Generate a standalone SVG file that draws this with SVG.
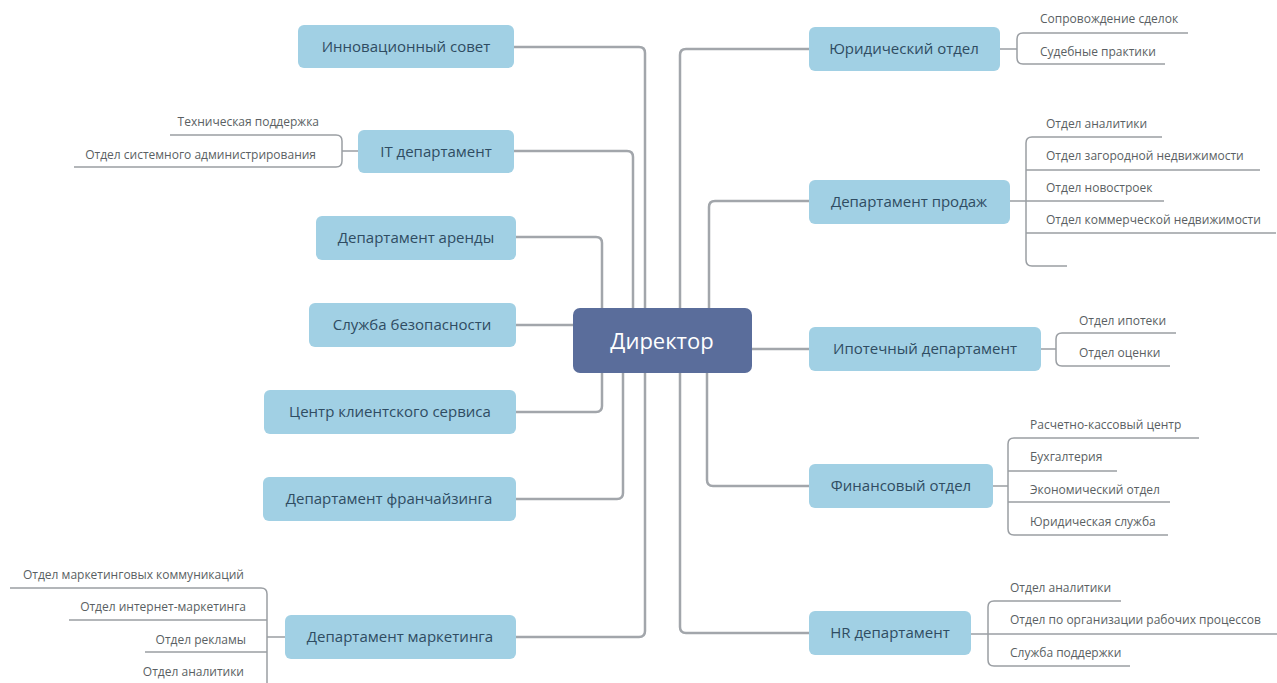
<svg xmlns="http://www.w3.org/2000/svg" width="1277" height="683" viewBox="0 0 1277 683">
<style>
.bg{fill:#ffffff}
.main{fill:none;stroke:#a2a6ab;stroke-width:2.5;stroke-linejoin:round}
.sub{fill:none;stroke:#9a9ea3;stroke-width:1.5;stroke-linejoin:round}
.node rect{fill:#a1d0e4}
.node text{font-family:"Open Sans","Noto Sans",sans-serif;font-size:15px;fill:#2f4c62;text-anchor:middle}
.root rect{fill:#5a6d9b}
.root text{font-family:"Open Sans","Noto Sans",sans-serif;font-size:22px;fill:#ffffff;text-anchor:middle}
.st{font-family:"Open Sans","Noto Sans",sans-serif;font-size:12px;fill:#5a5f63}
.l{text-anchor:end}
</style>
<rect class="bg" x="0" y="0" width="1277" height="683"/>
<g id="connectors">
<path class="main" d="M514,47 H639 Q645,47 645,53 V631 Q645,637 639,637 H516"/>
<path class="main" d="M514,151 H627 Q633,151 633,157 V310"/>
<path class="main" d="M516,237 H596 Q602,237 602,243 V406 Q602,412 596,412 H516"/>
<path class="main" d="M516,325 H575"/>
<path class="main" d="M516,499 H617 Q623,499 623,493 V370"/>
<path class="main" d="M809,49 H686 Q680,49 680,55 V627 Q680,633 686,633 H809"/>
<path class="main" d="M809,201 H715 Q709,201 709,207 V310"/>
<path class="main" d="M750,349 H809"/>
<path class="main" d="M809,486 H713 Q707,486 707,480 V370"/>
<path class="sub" d="M170,135 H336 Q342,135 342,141 V161 Q342,167 336,167 H74"/>
<path class="sub" d="M342,151 H358"/>
<path class="sub" d="M10,588 H261 Q267,588 267,594 V690"/>
<path class="sub" d="M69,620 H267 M145,652 H267 M139,684 H267 M267,637 H285"/>
<path class="sub" d="M1188,33 H1023 Q1017,33 1017,39 V58 Q1017,64 1023,64 H1165"/>
<path class="sub" d="M1000,49 H1017"/>
<path class="sub" d="M1162,137 H1032 Q1026,137 1026,143 V260 Q1026,266 1032,266 H1067"/>
<path class="sub" d="M1026,170 H1260 M1010,201 H1164 M1026,233 H1276"/>
<path class="sub" d="M1176,333 H1062 Q1056,333 1056,339 V360 Q1056,366 1062,366 H1170"/>
<path class="sub" d="M1041,349 H1056"/>
<path class="sub" d="M1199,438 H1014 Q1008,438 1008,444 V529 Q1008,535 1014,535 H1168"/>
<path class="sub" d="M1008,471 H1117 M1008,502 H1170 M993,486 H1008"/>
<path class="sub" d="M1121,601 H994 Q988,601 988,607 V660 Q988,666 994,666 H1130"/>
<path class="sub" d="M971,634 H1277"/>
</g>
<g id="director" class="root"><rect x="573" y="308" width="179" height="65" rx="7"/><text x="662" y="349">Директор</text></g>
<g id="n-innov" class="node"><rect x="298" y="25" width="216" height="43" rx="6"/><text x="406" y="52">Инновационный совет</text></g>
<g id="n-it" class="node"><rect x="358" y="130" width="156" height="43" rx="6"/><text x="436" y="157">IT департамент</text></g>
<g id="n-arenda" class="node"><rect x="316" y="216" width="200" height="44" rx="6"/><text x="416" y="243">Департамент аренды</text></g>
<g id="n-security" class="node"><rect x="309" y="303" width="207" height="44" rx="6"/><text x="412" y="330">Служба безопасности</text></g>
<g id="n-client" class="node"><rect x="264" y="390" width="252" height="44" rx="6"/><text x="390" y="417">Центр клиентского сервиса</text></g>
<g id="n-franch" class="node"><rect x="263" y="477" width="253" height="44" rx="6"/><text x="389" y="504">Департамент франчайзинга</text></g>
<g id="n-marketing" class="node"><rect x="285" y="615" width="231" height="44" rx="6"/><text x="400" y="642">Департамент маркетинга</text></g>
<g id="n-legal" class="node"><rect x="809" y="27" width="191" height="44" rx="6"/><text x="904" y="54">Юридический отдел</text></g>
<g id="n-sales" class="node"><rect x="809" y="180" width="201" height="44" rx="6"/><text x="909" y="207">Департамент продаж</text></g>
<g id="n-mortgage" class="node"><rect x="809" y="327" width="232" height="44" rx="6"/><text x="925" y="354">Ипотечный департамент</text></g>
<g id="n-finance" class="node"><rect x="809" y="464" width="184" height="44" rx="6"/><text x="901" y="491">Финансовый отдел</text></g>
<g id="n-hr" class="node"><rect x="809" y="611" width="162" height="44" rx="6"/><text x="890" y="638">HR департамент</text></g>
<g id="sub-it">
<text class="st l" x="319" y="126">Техническая поддержка</text>
<text class="st l" x="316" y="159">Отдел системного администрирования</text>
</g>
<g id="sub-marketing">
<text class="st l" x="244" y="579">Отдел маркетинговых коммуникаций</text>
<text class="st l" x="246" y="611">Отдел интернет-маркетинга</text>
<text class="st l" x="246" y="644">Отдел рекламы</text>
<text class="st l" x="244" y="676">Отдел аналитики</text>
</g>
<g id="sub-legal">
<text class="st" x="1040" y="23">Сопровождение сделок</text>
<text class="st" x="1040" y="56">Судебные практики</text>
</g>
<g id="sub-sales">
<text class="st" x="1046" y="128">Отдел аналитики</text>
<text class="st" x="1046" y="160">Отдел загородной недвижимости</text>
<text class="st" x="1046" y="192">Отдел новостроек</text>
<text class="st" x="1046" y="224">Отдел коммерческой недвижимости</text>
</g>
<g id="sub-mortgage">
<text class="st" x="1079" y="325">Отдел ипотеки</text>
<text class="st" x="1079" y="357">Отдел оценки</text>
</g>
<g id="sub-finance">
<text class="st" x="1030" y="429">Расчетно-кассовый центр</text>
<text class="st" x="1030" y="461">Бухгалтерия</text>
<text class="st" x="1030" y="494">Экономический отдел</text>
<text class="st" x="1030" y="526">Юридическая служба</text>
</g>
<g id="sub-hr">
<text class="st" x="1010" y="592">Отдел аналитики</text>
<text class="st" x="1010" y="624">Отдел по организации рабочих процессов</text>
<text class="st" x="1010" y="657">Служба поддержки</text>
</g>
</svg>
